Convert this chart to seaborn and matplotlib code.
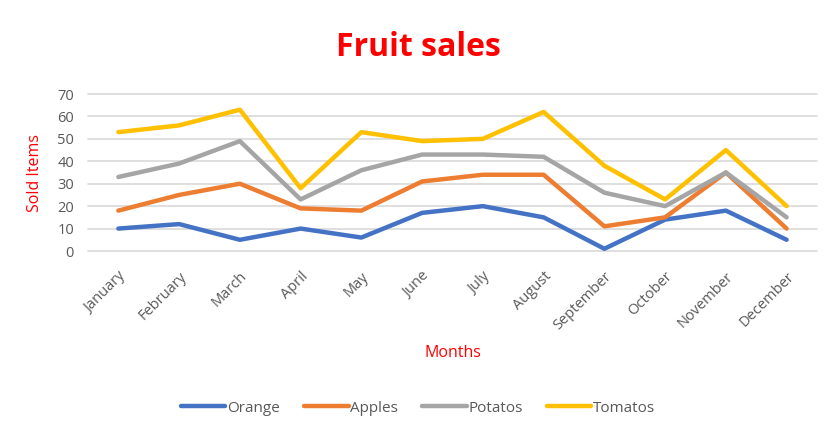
import matplotlib
matplotlib.use("Agg")
import matplotlib.pyplot as plt
import seaborn as sns
import pandas as pd

months = ["January", "February", "March", "April", "May", "June", "July",
          "August", "September", "October", "November", "December"]
orange = [10, 12, 5, 10, 6, 17, 20, 15, 1, 14, 18, 5]
apples = [18, 25, 30, 19, 18, 31, 34, 34, 11, 15, 35, 10]
potatos = [33, 39, 49, 23, 36, 43, 43, 42, 26, 20, 35, 15]
tomatos = [53, 56, 63, 28, 53, 49, 50, 62, 38, 23, 45, 20]
series_names = ["Orange", "Apples", "Potatos", "Tomatos"]
yticks = [0, 10, 20, 30, 40, 50, 60, 70]

colors = ["#4472C4", "#ED7D31", "#A5A5A5", "#FFC000"]

rows = []
for name, vals in zip(series_names, [orange, apples, potatos, tomatos]):
    for i, (m, v) in enumerate(zip(months, vals)):
        rows.append({"idx": i, "Month": m, "Series": name, "Value": v})
df = pd.DataFrame(rows)

sns.set_theme(style="white")
plt.rcParams['font.family'] = ['Open Sans', 'DejaVu Sans']

fig = plt.figure(figsize=(8.36, 4.36), dpi=100)
ax = fig.add_axes([88/836, 1-251/436, (817-88)/836, (251-94)/436])

sns.lineplot(data=df, x="idx", y="Value", hue="Series", hue_order=series_names,
             palette=colors, linewidth=3.2, ax=ax, legend=True, sort=False)

ax.set_xlim(-0.5, 11.5)
ax.set_ylim(0, 70)
ax.set_yticks(yticks)
ax.set_xticks(range(len(months)))
ax.set_xticklabels(months, rotation=45, ha="right", rotation_mode="anchor")
ax.tick_params(axis="both", length=0, labelsize=10.5, labelcolor="#595959")
ax.tick_params(axis="x", pad=13)
ax.tick_params(axis="y", pad=10)
ax.yaxis.grid(True, color="#D9D9D9", linewidth=1.2)
for gl in ax.get_ygridlines():
    gl.set_clip_on(False)
ax.set_axisbelow(True)
for s in ax.spines.values():
    s.set_visible(False)

ax.set_xlabel("Months", color="#FF0000", fontsize=11.5)
ax.set_ylabel("Sold Items", color="#FF0000", fontsize=11.5)
ax.xaxis.set_label_coords(0.5, -(345-251)/157)
ax.yaxis.set_label_coords(-(88-43)/729, 0.5)

fig.text(0.5, 1-47/436, "Fruit sales", color="#FF0000", fontsize=23,
         fontweight="bold", ha="center", va="center")

handles, labels = ax.get_legend_handles_labels()
ax.get_legend().remove()
leg = fig.legend(handles, labels, loc="center", bbox_to_anchor=(0.5, 1-408/436),
                 ncol=4, frameon=False, handlelength=2.9, handletextpad=0.1,
                 columnspacing=1.6, fontsize=11)
for t in leg.get_texts():
    t.set_color("#595959")
for l in leg.get_lines():
    l.set_linewidth(3.2)

fig.savefig("out.png", dpi=100)
